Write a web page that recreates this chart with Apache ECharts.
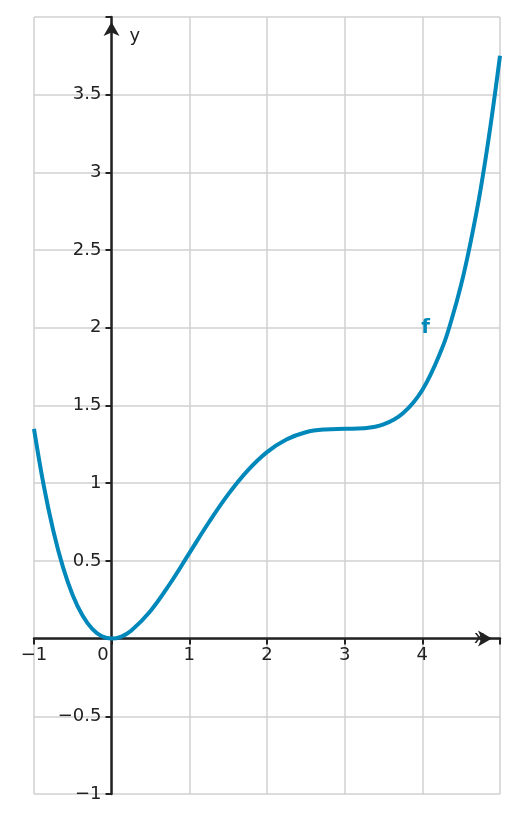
<!DOCTYPE html>
<html><head><meta charset="utf-8">
<script src="https://cdn.jsdelivr.net/npm/echarts@6/dist/echarts.min.js"></script>
<style>html,body{margin:0;padding:0;background:#fff}#c{width:517px;height:823px}</style>
</head><body><div id="c"></div>
<script>
const xs = [-1,-0.875,-0.75,-0.625,-0.5,-0.375,-0.25,-0.125,0,0.125,0.25,0.5,0.75,1,1.25,1.5,1.75,2,2.25,2.5,2.75,3,3.25,3.5,3.75,4,4.25,4.375,4.5,4.625,4.75,4.875,5];
const ys = [1.35,0.986,0.691,0.457,0.278,0.149,0.063,0.0148,0,0.0133,0.05,0.178,0.353,0.55,0.747,0.928,1.081,1.2,1.281,1.328,1.346,1.35,1.354,1.378,1.45,1.6,1.863,2.05,2.278,2.56,2.89,3.29,3.75];
const fLabel = {name:'f', x:4, y:2};
const fmt = v => String(v).replace('-', '\u2212');
const chart = echarts.init(document.getElementById('c'));
const axFont = {fontFamily:'DejaVu Sans', fontSize:18, color:'#222'};
chart.setOption({
  animation:false,
  grid:{left:34,right:17,top:17,bottom:29,containLabel:false,outerBoundsMode:'none'},
  xAxis:{type:'value',min:-1,max:5,interval:1,offset:-155.5,
    axisLine:{onZero:false,symbol:['none','arrow'],symbolSize:[12,14],symbolOffset:[0,-8],lineStyle:{color:'#222',width:2.5}},
    axisTick:{show:true,inside:false,length:6,lineStyle:{color:'#222',width:2}},
    axisLabel:Object.assign({formatter:v=>(v===5?'':v===0?'0   ':fmt(v)),margin:8},axFont),
    splitLine:{lineStyle:{color:'#d0d0d0',width:1.5}},
    name:'x',nameLocation:'end',nameGap:-26,nameTextStyle:Object.assign({padding:[0,0,40,0]},axFont)},
  yAxis:{type:'value',min:-1,max:4,interval:0.5,offset:-77.5,
    axisLine:{onZero:false,symbol:['none','arrow'],symbolSize:[12,14],symbolOffset:[0,-5],lineStyle:{color:'#222',width:2.5}},
    axisTick:{show:true,length:6,lineStyle:{color:'#222',width:2}},
    axisLabel:Object.assign({formatter:v=>(v===0||v===4?'':fmt(v)),margin:10},axFont),
    splitLine:{lineStyle:{color:'#d0d0d0',width:1.5}},
    name:'y',nameLocation:'end',nameGap:-28,nameTextStyle:Object.assign({align:'left',padding:[0,0,0,18]},axFont)},
  series:[
    {type:'line',smooth:0.4,showSymbol:false,data:xs.map((x,i)=>[x,ys[i]]),
     lineStyle:{color:'#0088bb',width:4},
     markPoint:{symbol:'circle',symbolSize:0,data:[{coord:[fLabel.x,fLabel.y]}],
       label:{show:true,formatter:fLabel.name,position:'right',offset:[-6,0],color:'#0088bb',fontWeight:'bold',fontSize:20,fontFamily:'DejaVu Sans'}}}
  ]
});
</script></body></html>
